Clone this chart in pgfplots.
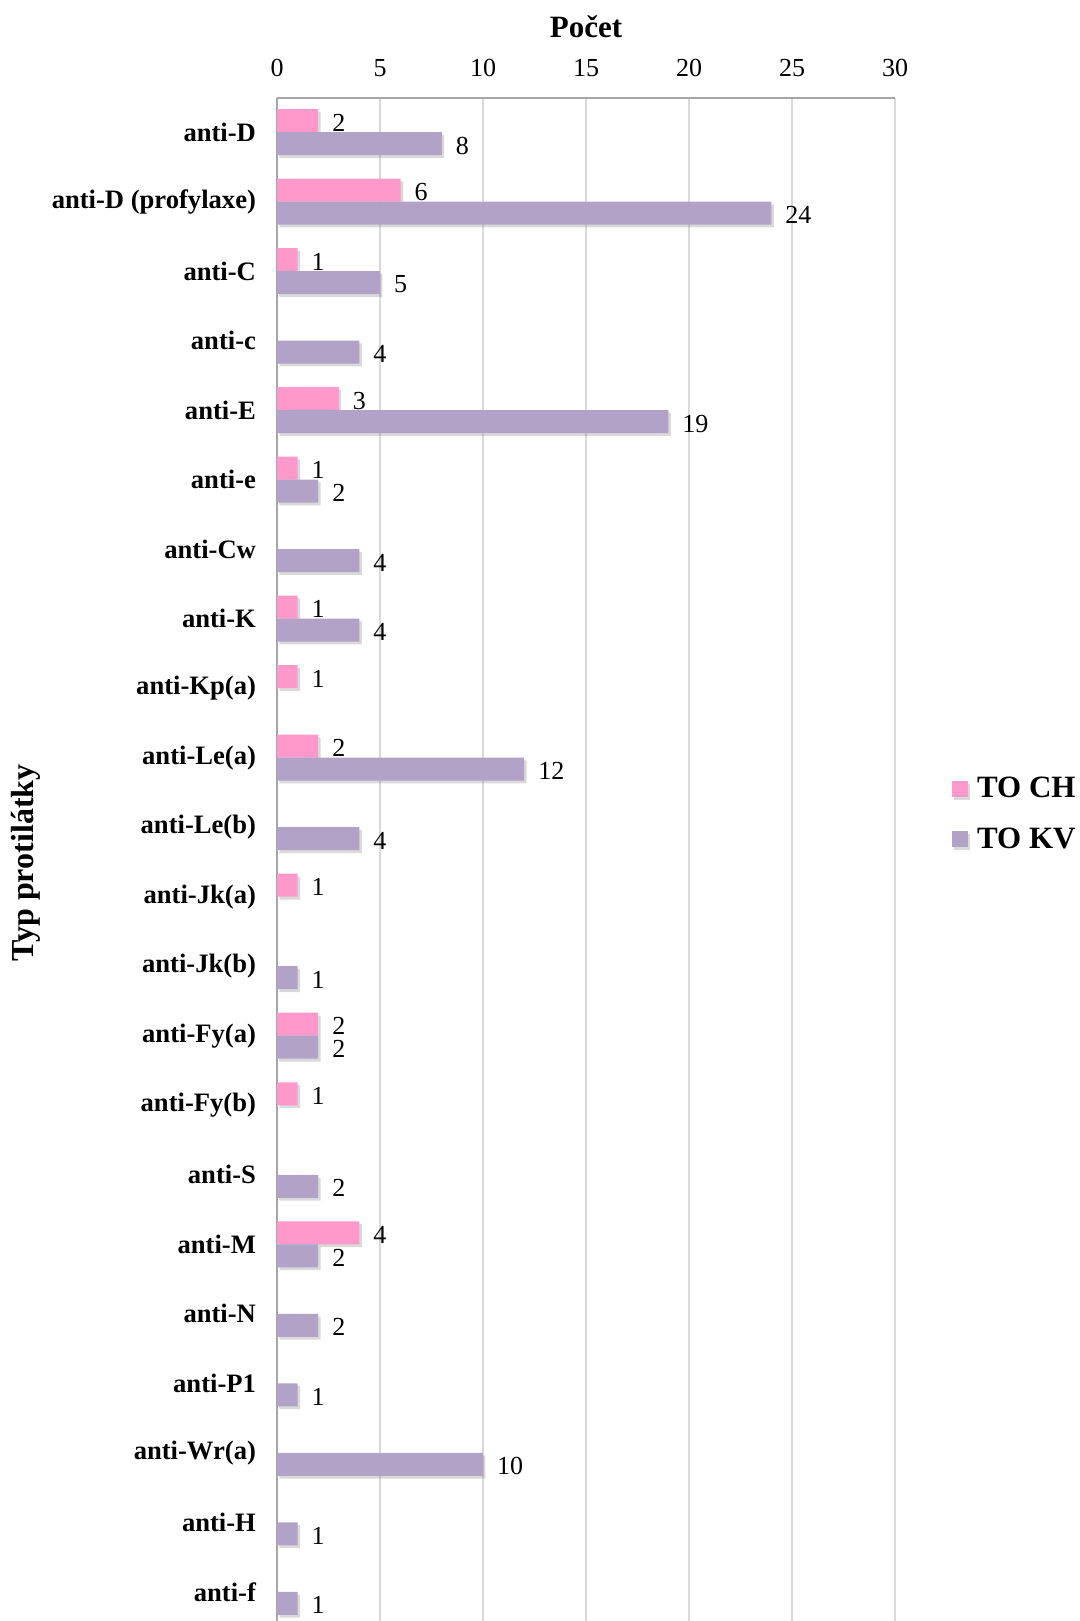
\documentclass[border=0pt]{standalone}
\usepackage{pgfplots}
\pgfplotsset{compat=1.18}
\usepackage{fontspec}
\setmainfont{Liberation Serif}
\usetikzlibrary{shadows}

\definecolor{toch}{HTML}{FF99CC}
\definecolor{tokv}{HTML}{B3A2C7}
\definecolor{gridgray}{HTML}{D9D9D9}
\definecolor{framegray}{HTML}{A6A6A6}

% Counts of antibodies per category (0 = anti-D ... 21 = anti-f)
\pgfplotstableread{
idx val
0 2
1 6
2 1
4 3
5 1
7 1
8 1
9 2
11 1
13 2
14 1
16 4
}\toch

\pgfplotstableread{
idx val
0 8
1 24
2 5
3 4
4 19
5 2
6 4
7 4
9 12
10 4
12 1
13 2
15 2
16 2
17 2
18 1
19 10
20 1
21 1
}\tokv

\begin{document}
\begin{tikzpicture}
\useasboundingbox (0pt,0pt) rectangle (540pt,-810.5pt);
\begin{axis}[
  at={(138.5pt,-49pt)}, anchor=north west,
  scale only axis, width=309pt, height=761.5pt,
  xbar, bar width=11.5pt,
  xmin=0, xmax=30, xtick={0,5,...,30},
  ymin=-0.49, ymax=21.42, y dir=reverse,
  ytick={0,...,21},
  yticklabels={anti-D, anti-D (profylaxe), anti-C, anti-c, anti-E, anti-e,
    anti-Cw, anti-K, anti-Kp(a), anti-Le(a), anti-Le(b), anti-Jk(a), anti-Jk(b),
    anti-Fy(a), anti-Fy(b), anti-S, anti-M, anti-N, anti-P1, anti-Wr(a), anti-H, anti-f},
  axis x line*=top, axis y line*=left,
  axis line style={-, framegray, line width=0.8pt},
  xmajorgrids, grid style={gridgray, line width=0.8pt},
  major tick length=0pt,
  /pgf/number format/assume math mode=true,
  xticklabel style={font=\fontsize{13}{13}\selectfont},
  xticklabel shift=7pt,
  yticklabel style={font=\bfseries\fontsize{13.3}{13.3}\selectfont},
  yticklabel shift=7pt,
  point meta=x,
  nodes near coords,
  nodes near coords style={font=\fontsize{13}{13}\selectfont, anchor=west,
    xshift=3.5pt, yshift=-1pt, text=black},
  legend style={draw=none, fill=none, at={(axis cs:32.46,9.81)}, anchor=west,
    font=\bfseries\fontsize{15.5}{15.5}\selectfont, row sep=9.5pt},
  legend cell align=left,
]
\addplot[fill=toch, draw=none, bar shift=5.75pt,
  drop shadow={shadow xshift=1.2pt, shadow yshift=-1.4pt, opacity=0.3},
  legend image code/.code={\fill[toch] (0pt,-4pt) rectangle (8pt,4pt); \path (10.5pt,0pt);}]
  table[x=val, y=idx] {\toch};
\addlegendentry{TO CH}
\addplot[fill=tokv, draw=none, bar shift=-5.75pt,
  drop shadow={shadow xshift=1.2pt, shadow yshift=-1.4pt, opacity=0.3},
  legend image code/.code={\fill[tokv] (0pt,-4pt) rectangle (8pt,4pt); \path (10.5pt,0pt);}]
  table[x=val, y=idx] {\tokv};
\addlegendentry{TO KV}
\end{axis}
\node[font=\bfseries\fontsize{15.5}{15.5}\selectfont] at (293pt,-13.5pt) {Počet};
\node[rotate=90, font=\bfseries\fontsize{16}{16}\selectfont] at (13pt,-431.5pt) {Typ protilátky};
\end{tikzpicture}
\end{document}
